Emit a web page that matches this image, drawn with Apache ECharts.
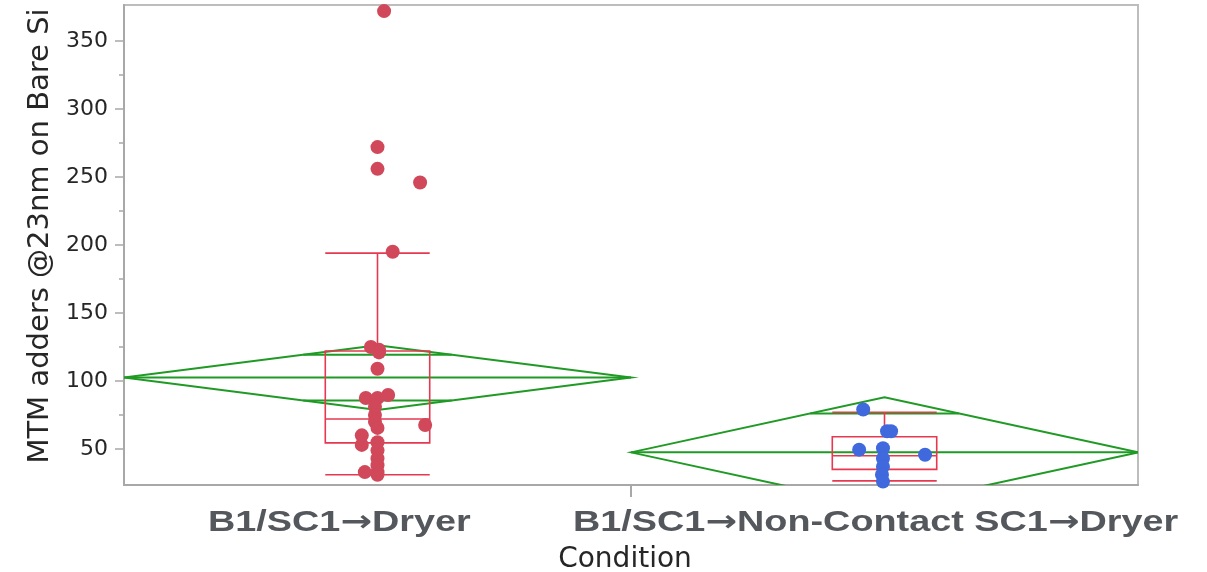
<!DOCTYPE html>
<html><head><meta charset="utf-8">
<script src="https://cdn.jsdelivr.net/npm/echarts@6/dist/echarts.min.js"></script>
<style>html,body{margin:0;padding:0;background:#fff}#c{width:1207px;height:572px}</style>
</head><body><div id="c"></div>
<script>
// ---------- data ----------
const categories = ['B1/SC1\u2192Dryer', 'B1/SC1\u2192Non-Contact SC1\u2192Dryer'];
const axisTitleX = 'Condition';
const axisTitleY = 'MTM adders @23nm on Bare Si';
const yTickValues = [50, 100, 150, 200, 250, 300, 350];
const yMinorTickValues = [75, 125, 175, 225, 275, 325];

// individual measurements per condition, with their horizontal jitter (fraction of a category)
const dryerValues = [372, 272, 256, 246, 195, 125, 123, 121, 109, 89.7, 87.5, 87.5, 81, 75, 70, 67.6, 65.5, 60, 55, 53, 49, 43, 38, 33, 33, 31];
const dryerJitter = [0.013, 0, 0, 0.084, 0.03, -0.013, 0.003, 0.003, 0, 0.021, -0.023, 0, -0.005, -0.005, -0.005, 0.094, 0, -0.031, 0, -0.031, 0, 0, 0, -0.025, 0, 0];
const nonContactValues = [79, 63, 63, 50.5, 49.5, 45.8, 43, 37, 31, 26];
const nonContactJitter = [-0.042, 0.005, 0.013, -0.003, -0.05, 0.08, -0.003, -0.003, -0.005, -0.003];

// box plot statistics: [lower whisker, Q1, median, Q3, upper whisker]
const dryerBox = [31, 54.5, 72, 122, 194];
const nonContactBox = [26.5, 35, 45, 59, 77];

// means diamonds: [mean, 95% CI half-width]
const dryerMeanCI = [102.5, 23.8];
const nonContactMeanCI = [47.5, 40.5];

// ---------- styles ----------
const GREEN = '#1f9a24';
const BOXRED = '#e63950';
const DOT_RED = '#d0485a';
const DOT_BLUE = '#3f69dc';
const AXIS_GRAY = '#a8a8a8';
const TEXT = '#262626';
const LABEL_GRAY = '#54585d';

const chart = echarts.init(document.getElementById('c'), null, {renderer: 'canvas'});

function renderDiamond(params, api) {
  const i = api.value(0), m = api.value(1), h = api.value(2);
  const p = (x, y) => api.coord([x, y]);
  const k = Math.SQRT1_2;
  const w = 0.5 * (1 - k);
  const st = {stroke: GREEN, lineWidth: 2, fill: 'none'};
  const line = (a, b) => ({type: 'line', shape: {x1: a[0], y1: a[1], x2: b[0], y2: b[1]}, style: st});
  return {
    type: 'group',
    children: [
      {type: 'polygon', shape: {points: [p(i, m), p(i + 0.5, m + h), p(i + 1, m), p(i + 0.5, m - h)]}, style: st},
      line(p(i, m), p(i + 1, m)),
      line(p(i + 0.5 - w, m + h * k), p(i + 0.5 + w, m + h * k)),
      line(p(i + 0.5 - w, m - h * k), p(i + 0.5 + w, m - h * k))
    ]
  };
}

function renderBox(params, api) {
  const i = api.value(0);
  const lo = api.value(1), q1 = api.value(2), med = api.value(3), q3 = api.value(4), hi = api.value(5);
  const c = i + 0.5, hw = 0.103;
  const p = (x, y) => api.coord([x, y]);
  const st = {stroke: BOXRED, lineWidth: 1.6, fill: 'none'};
  const line = (a, b) => ({type: 'line', shape: {x1: a[0], y1: a[1], x2: b[0], y2: b[1]}, style: st});
  const tl = p(c - hw, q3), br = p(c + hw, q1);
  return {
    type: 'group',
    children: [
      {type: 'rect', shape: {x: tl[0], y: tl[1], width: br[0] - tl[0], height: br[1] - tl[1]}, style: st},
      line(p(c - hw, med), p(c + hw, med)),
      line(p(c, q3), p(c, hi)),
      line(p(c, q1), p(c, lo)),
      line(p(c - hw, hi), p(c + hw, hi)),
      line(p(c - hw, lo), p(c + hw, lo))
    ]
  };
}

const labelX = [208, 573];
const richLabel = name => '{a|' + name.split('\u2192').join('}{b|\u2192}{a|') + '}';

const option = {
  backgroundColor: '#fff',
  animation: false,
  grid: {left: 124, right: 69, top: 5, bottom: 87, containLabel: false, outerBoundsMode: 'none', show: true, borderColor: '#bdbdbd', borderWidth: 2},
  xAxis: {
    type: 'value', min: 0, max: categories.length,
    axisLine: {show: true, lineStyle: {color: AXIS_GRAY, width: 2}},
    axisTick: {show: true, customValues: [1], length: 12, lineStyle: {color: AXIS_GRAY, width: 2}},
    axisLabel: {show: false},
    splitLine: {show: false},
    name: axisTitleX, nameLocation: 'middle', nameGap: 61,
    nameTextStyle: {fontFamily: 'DejaVu Sans', fontSize: 28, color: TEXT, padding: [0, 12, 0, 0]}
  },
  yAxis: [{
    type: 'value', min: 23.5, max: 376.5,
    axisLine: {show: true, lineStyle: {color: AXIS_GRAY, width: 2}},
    axisTick: {show: true, customValues: yTickValues, length: 9, lineStyle: {color: AXIS_GRAY, width: 1.5}},
    axisLabel: {show: true, customValues: yTickValues, margin: 16, fontFamily: 'DejaVu Sans', fontSize: 22, color: TEXT},
    splitLine: {show: false},
    name: axisTitleY, nameLocation: 'middle', nameRotate: 90, nameGap: 67,
    nameTextStyle: {fontFamily: 'DejaVu Sans', fontSize: 29, color: TEXT, padding: [0, 0, 0, 18]}
  }, {
    type: 'value', min: 23.5, max: 376.5, position: 'left',
    axisLine: {show: false},
    axisTick: {show: true, customValues: yMinorTickValues, length: 5, lineStyle: {color: AXIS_GRAY, width: 1.5}},
    axisLabel: {show: false},
    splitLine: {show: false}
  }],
  graphic: categories.map((name, k) => ({
    type: 'text', x: labelX[k], y: 523, scaleX: 1.26, z: 100,
    style: {
      text: richLabel(name),
      textAlign: 'left', textVerticalAlign: 'middle',
      rich: {
        a: {fontFamily: '"Liberation Sans", Arial, sans-serif', fontWeight: 'bold', fontSize: 30, fill: LABEL_GRAY, color: LABEL_GRAY},
        b: {fontFamily: '"DejaVu Sans"', fontWeight: 'bold', fontSize: 30, fill: LABEL_GRAY, color: LABEL_GRAY}
      }
    }
  })),
  series: [
    {
      type: 'custom', name: 'means', clip: true, z: 2,
      renderItem: renderDiamond,
      data: [[0, dryerMeanCI[0], dryerMeanCI[1]], [1, nonContactMeanCI[0], nonContactMeanCI[1]]]
    },
    {
      type: 'custom', name: 'box', clip: true, z: 3,
      renderItem: renderBox,
      data: [[0].concat(dryerBox), [1].concat(nonContactBox)]
    },
    {
      type: 'scatter', name: categories[0], z: 4, symbolSize: 14,
      itemStyle: {color: DOT_RED, opacity: 1},
      data: dryerValues.map((v, k) => [0.5 + dryerJitter[k], v])
    },
    {
      type: 'scatter', name: categories[1], z: 4, symbolSize: 14,
      itemStyle: {color: DOT_BLUE, opacity: 1},
      data: nonContactValues.map((v, k) => [1.5 + nonContactJitter[k], v])
    }
  ]
};
chart.setOption(option);
</script></body></html>
